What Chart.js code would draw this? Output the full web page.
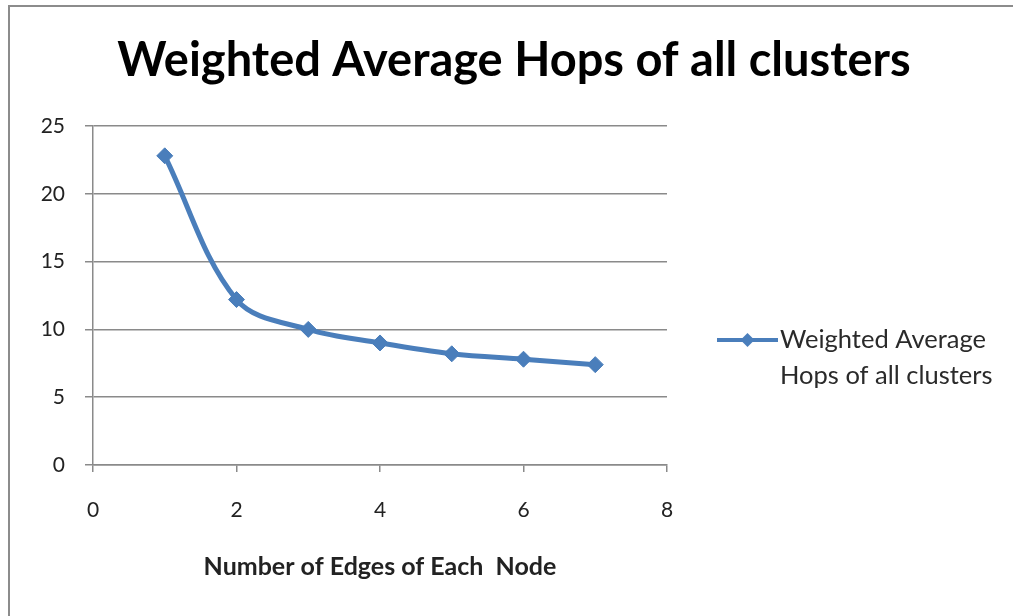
<!DOCTYPE html>
<html>
<head>
<meta charset="utf-8">
<script src="https://cdn.jsdelivr.net/npm/chart.js@4/dist/chart.umd.min.js"></script>
<style>
  html, body { margin: 0; padding: 0; background: #ffffff; }
  #wrap { position: relative; width: 1013px; height: 616px; overflow: hidden; }
</style>
</head>
<body>
<div id="wrap"><canvas id="c" width="1013" height="616"></canvas></div>
<script>
// Weighted average hop count versus edges per node
const chartTitle = 'Weighted Average Hops of all clusters';
const seriesName = ['Weighted Average', 'Hops of all clusters'];
const xAxisTitle = 'Number of Edges of Each  Node';
const edgesPerNode = [1, 2, 3, 4, 5, 6, 7];
const avgHops = [22.8, 12.2, 10.0, 9.0, 8.2, 7.8, 7.4];
const xTicks = [0, 2, 4, 6, 8];
const yTicks = [0, 5, 10, 15, 20, 25];

const BLUE = '#4a7ebb';
const GRID = '#8a8a8a';
const FONT = 'Lato, "Liberation Sans", sans-serif';

// Outer frame and the chart heading
const framePlugin = {
  id: 'frame',
  beforeDraw(chart) {
    const ctx = chart.ctx;
    ctx.save();
    ctx.fillStyle = '#ffffff';
    ctx.fillRect(0, 0, chart.width, chart.height);
    ctx.strokeStyle = '#8c8c8c';
    ctx.lineWidth = 2;
    ctx.beginPath();
    ctx.moveTo(9, chart.height + 5);
    ctx.lineTo(9, 6);
    ctx.lineTo(chart.width + 5, 6);
    ctx.stroke();
    ctx.fillStyle = '#000000';
    ctx.font = 'bold 47px ' + FONT;
    ctx.textAlign = 'center';
    ctx.textBaseline = 'alphabetic';
    ctx.fillText(chartTitle, 514, 76);
    ctx.restore();
  }
};

// Legend drawn to the right of the plot, with a two-line label
const sideLegend = {
  id: 'sideLegend',
  afterDraw(chart) {
    const ctx = chart.ctx;
    const ds = chart.data.datasets[0];
    const x0 = 717, x1 = 778, y = 340;
    ctx.save();
    ctx.strokeStyle = ds.borderColor;
    ctx.lineWidth = 4;
    ctx.beginPath();
    ctx.moveTo(x0, y);
    ctx.lineTo(x1, y);
    ctx.stroke();
    ctx.fillStyle = ds.pointBackgroundColor;
    const cx = (x0 + x1) / 2, r = 7;
    ctx.beginPath();
    ctx.moveTo(cx, y - r);
    ctx.lineTo(cx + r, y);
    ctx.lineTo(cx, y + r);
    ctx.lineTo(cx - r, y);
    ctx.closePath();
    ctx.fill();
    ctx.fillStyle = '#2a2a2a';
    ctx.font = '25.5px ' + FONT;
    ctx.textBaseline = 'middle';
    ctx.textAlign = 'left';
    ctx.fillText(seriesName[0], 780, y);
    ctx.fillText(seriesName[1], 780, y + 36);
    ctx.restore();
  }
};

new Chart(document.getElementById('c'), {
  type: 'line',
  data: {
    datasets: [{
      label: seriesName.join(' '),
      data: edgesPerNode.map((x, i) => ({ x: x, y: avgHops[i] })),
      borderColor: BLUE,
      backgroundColor: BLUE,
      pointBackgroundColor: BLUE,
      pointBorderColor: BLUE,
      borderWidth: 5,
      pointStyle: 'rectRot',
      pointRadius: 8,
      pointBorderWidth: 1,
      tension: 0.35,
      fill: false
    }]
  },
  options: {
    responsive: false,
    animation: false,
    devicePixelRatio: 1,
    layout: { padding: { left: 0, right: 346, top: 126, bottom: 0 } },
    plugins: {
      legend: { display: false },
      tooltip: { enabled: false },
      title: { display: false }
    },
    scales: {
      x: {
        type: 'linear',
        min: 0,
        max: 8,
        afterBuildTicks(s) { s.ticks = xTicks.map(v => ({ value: v })); },
        afterFit(s) { s.height = 616 - 465; },
        grid: { drawOnChartArea: false, drawTicks: true, tickLength: 7, color: GRID, lineWidth: 1.5 },
        border: { color: GRID, width: 1.5 },
        ticks: { color: '#222222', font: { family: FONT, size: 21 }, padding: 26, maxRotation: 0 },
        title: {
          display: true,
          text: xAxisTitle,
          color: '#222222',
          font: { family: FONT, size: 25, weight: 'bold', lineHeight: 1.2 },
          padding: { top: 4, bottom: 34 }
        }
      },
      y: {
        type: 'linear',
        min: 0,
        max: 25,
        afterBuildTicks(s) { s.ticks = yTicks.map(v => ({ value: v })); },
        afterFit(s) { s.width = 93; },
        grid: { drawOnChartArea: true, drawTicks: true, tickLength: 8, color: GRID, lineWidth: 1.5 },
        border: { color: GRID, width: 1.5 },
        ticks: { color: '#222222', font: { family: FONT, size: 21 }, padding: 20 }
      }
    }
  },
  plugins: [framePlugin, sideLegend]
});
</script>
</body>
</html>
